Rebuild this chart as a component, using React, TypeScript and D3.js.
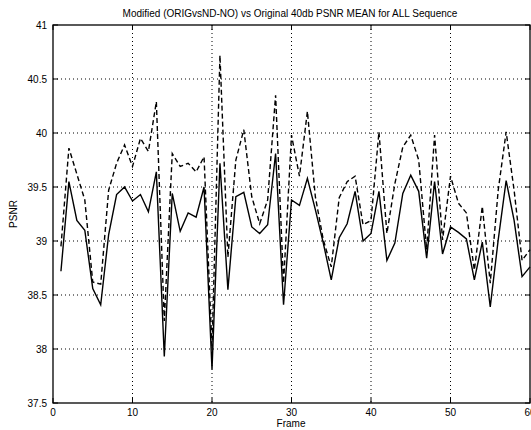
import React from "react";
import * as d3 from "d3";

const frames: number[] = d3.range(1, 61);
const modified: number[] = [
  38.72, 39.55, 39.19, 39.10, 38.56, 38.41, 39.06, 39.43, 39.50, 39.37,
  39.43, 39.27, 39.64, 37.93, 39.44, 39.09, 39.26, 39.22, 39.50, 37.81,
  39.72, 38.55, 39.41, 39.45, 39.13, 39.07, 39.15, 39.81, 38.41, 39.38,
  39.33, 39.58, 39.29, 38.98, 38.64, 39.03, 39.16, 39.46, 39.00, 39.07,
  39.46, 38.82, 38.98, 39.44, 39.61, 39.46, 38.84, 39.55, 38.88, 39.13,
  39.08, 39.02, 38.64, 38.99, 38.39, 39.01, 39.56, 39.19, 38.67, 38.76,
];
const original: number[] = [
  38.95, 39.86, 39.62, 39.38, 38.62, 38.60, 39.47, 39.72, 39.89, 39.69,
  39.95, 39.83, 40.29, 38.26, 39.81, 39.69, 39.72, 39.64, 39.78, 38.00,
  40.72, 38.85, 39.75, 40.03, 39.41, 39.16, 39.38, 40.35, 38.61, 39.98,
  39.60, 40.20, 39.41, 39.01, 38.76, 39.40, 39.55, 39.60, 39.15, 39.19,
  40.01, 39.07, 39.53, 39.87, 39.98, 39.75, 38.92, 39.98, 39.01, 39.60,
  39.35, 39.26, 38.73, 39.32, 38.61, 39.47, 40.01, 39.47, 38.82, 38.92,
];
const xTicks: number[] = [0, 10, 20, 30, 40, 50, 60];
const yTicks: number[] = [37.5, 38, 38.5, 39, 39.5, 40, 40.5, 41];
const title = "Modified (ORIGvsND-NO) vs Original 40db PSNR MEAN for ALL Sequence";

export default function App() {
  const W = 531, H = 430;
  const left = 53, right = 530, top = 25, bottom = 403;
  const x = d3.scaleLinear().domain([0, 60]).range([left, right]);
  const y = d3.scaleLinear().domain([37.5, 41]).range([bottom, top]);
  const line = d3
    .line<number>()
    .x((_, i) => x(frames[i]))
    .y((d) => y(d));
  const font = "'Liberation Sans', Arial, sans-serif";
  return (
    <svg
      width={W}
      height={H}
      style={{ position: "absolute", left: 0, top: 0, background: "#fff" }}
      fontFamily={font}
    >
      <rect x={0} y={0} width={W} height={H} fill="#fff" />
      {xTicks.map((t) => (
        <g key={"xg" + t}>
          {t > 0 && t < 60 && (
            <line x1={x(t)} x2={x(t)} y1={top} y2={bottom} stroke="#000" strokeWidth={1} strokeDasharray="1,3" />
          )}
          <line x1={x(t)} x2={x(t)} y1={bottom} y2={bottom - 5} stroke="#000" />
          <line x1={x(t)} x2={x(t)} y1={top} y2={top + 5} stroke="#000" />
          <text x={x(t)} y={bottom + 13} fontSize={10} textAnchor="middle" fill="#000">
            {t}
          </text>
        </g>
      ))}
      {yTicks.map((t) => (
        <g key={"yg" + t}>
          {t > 37.5 && t < 41 && (
            <line x1={left} x2={right} y1={y(t)} y2={y(t)} stroke="#000" strokeWidth={1} strokeDasharray="1,3" />
          )}
          <line x1={left} x2={left + 5} y1={y(t)} y2={y(t)} stroke="#000" />
          <line x1={right} x2={right - 5} y1={y(t)} y2={y(t)} stroke="#000" />
          <text x={left - 6} y={y(t) + 3.5} fontSize={10} textAnchor="end" fill="#000">
            {t}
          </text>
        </g>
      ))}
      <rect x={left} y={top} width={right - left} height={bottom - top} fill="none" stroke="#000" strokeWidth={1.3} />
      <path d={line(original) || ""} fill="none" stroke="#000" strokeWidth={1.4} strokeDasharray="5,3" />
      <path d={line(modified) || ""} fill="none" stroke="#000" strokeWidth={1.4} />
      <text x={290} y={17} fontSize={10} textAnchor="middle" fill="#000">
        {title}
      </text>
      <text x={291} y={427} fontSize={10} textAnchor="middle" fill="#000">
        Frame
      </text>
      <text x={17} y={214} fontSize={10} textAnchor="middle" fill="#000" transform="rotate(-90 17 214)">
        PSNR
      </text>
    </svg>
  );
}
